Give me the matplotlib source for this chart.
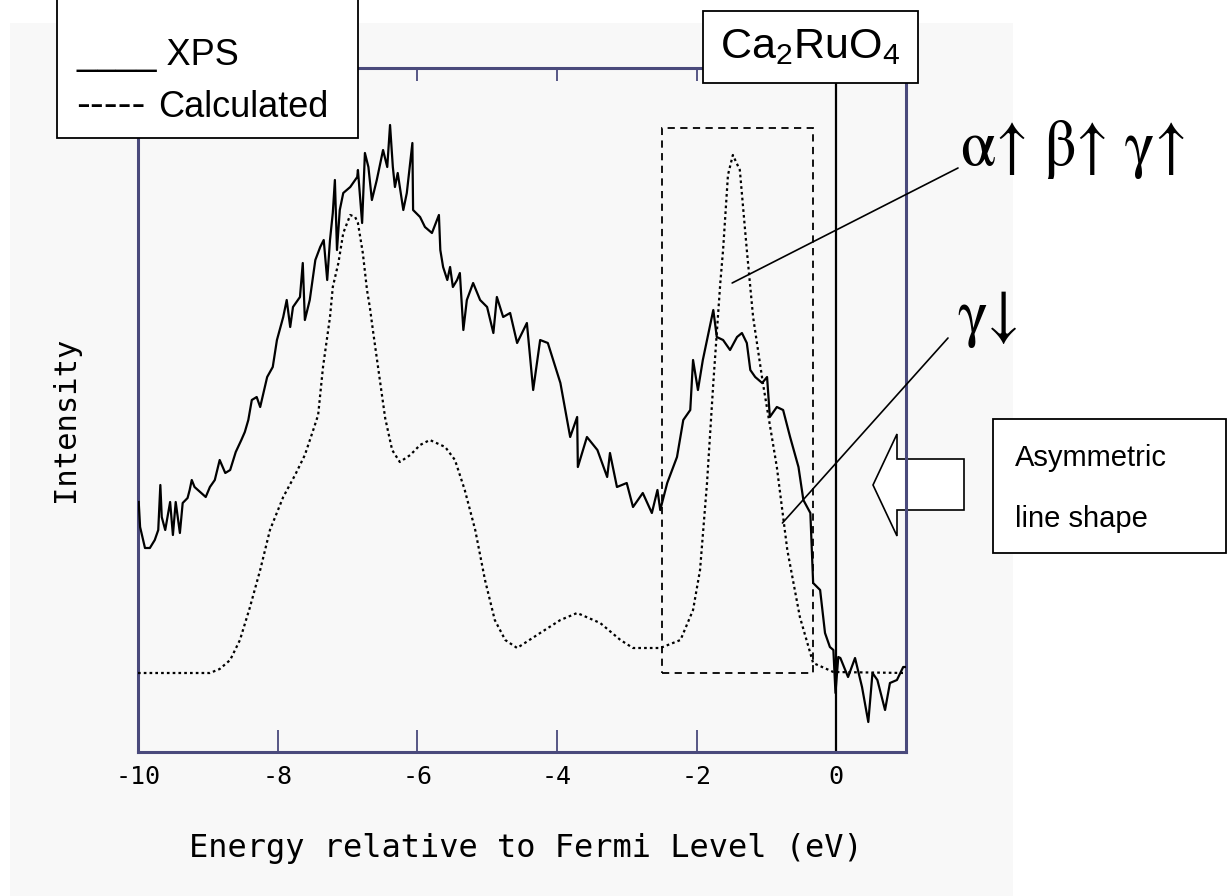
import matplotlib
matplotlib.use('Agg')
import matplotlib.pyplot as plt
from matplotlib.patches import Rectangle, Polygon

# --- Data (intensity in arbitrary units) ---
xps_energy = [
    -9.99, -9.97, -9.90, -9.83, -9.76, -9.71, -9.68, -9.66, -9.61, -9.54,
    -9.50, -9.46, -9.40, -9.36, -9.29, -9.26, -9.23, -9.19, -9.11, -9.03,
    -8.97, -8.90, -8.83, -8.75, -8.68, -8.60, -8.52, -8.47, -8.42, -8.37,
    -8.30, -8.25, -8.15, -8.07, -8.01, -7.92, -7.87, -7.82, -7.78, -7.68,
    -7.64, -7.61, -7.54, -7.46, -7.39, -7.34, -7.29, -7.25, -7.21, -7.18,
    -7.15, -7.11, -7.06, -6.96, -6.86, -6.85, -6.79, -6.75, -6.70, -6.65,
    -6.58, -6.49, -6.43, -6.39, -6.35, -6.32, -6.28, -6.20, -6.15, -6.07,
    -6.06, -5.96, -5.89, -5.79, -5.69, -5.67, -5.63, -5.57, -5.53, -5.49,
    -5.43, -5.39, -5.34, -5.29, -5.20, -5.10, -5.00, -4.91, -4.86, -4.77,
    -4.67, -4.57, -4.43, -4.34, -4.24, -4.13, -3.95, -3.81, -3.71, -3.70,
    -3.57, -3.42, -3.28, -3.24, -3.14, -3.00, -2.91, -2.77, -2.64, -2.56,
    -2.52, -2.42, -2.28, -2.19, -2.09, -2.05, -1.98, -1.91, -1.76, -1.71,
    -1.62, -1.52, -1.42, -1.35, -1.28, -1.23, -1.16, -1.06, -0.99, -0.95,
    -0.85, -0.76, -0.66, -0.54, -0.47, -0.37, -0.33, -0.23, -0.16, -0.09,
    -0.04, -0.01, 0.03, 0.06, 0.17, 0.27, 0.37, 0.46, 0.52, 0.59,
    0.70, 0.77, 0.87, 0.96, 0.99,
]
xps_intensity = [
    250, 225, 204, 204, 212, 222, 267, 235, 222, 250,
    217, 250, 219, 249, 254, 262, 272, 265, 260, 255,
    265, 272, 292, 279, 282, 300, 312, 320, 332, 352,
    355, 345, 375, 385, 412, 435, 452, 425, 445, 455,
    489, 432, 452, 492, 505, 512, 472, 512, 539, 572,
    502, 542, 559, 565, 575, 582, 529, 599, 585, 552,
    572, 602, 585, 627, 585, 565, 579, 542, 559, 609,
    542, 535, 525, 519, 537, 502, 485, 472, 485, 465,
    472, 479, 422, 452, 469, 452, 445, 419, 455, 435,
    439, 409, 429, 362, 412, 409, 369, 315, 335, 285,
    315, 302, 275, 299, 265, 269, 245, 259, 239, 262,
    242, 269, 295, 332, 342, 392, 362, 392, 442, 415,
    412, 402, 415, 419, 409, 382, 375, 369, 375, 335,
    345, 342, 315, 285, 252, 239, 169, 162, 119, 105,
    102, 59, 95, 94, 75, 94, 65, 30, 79, 72,
    42, 69, 72, 85, 85,
]

calc_energy = [
    -10.0, -8.97, -8.83, -8.68, -8.54, -8.40, -8.25, -8.11, -7.92, -7.75,
    -7.61, -7.49, -7.42, -7.35, -7.25, -7.21, -7.13, -7.06, -6.96, -6.89,
    -6.85, -6.78, -6.72, -6.68, -6.63, -6.53, -6.46, -6.36, -6.25, -6.10,
    -5.96, -5.82, -5.60, -5.46, -5.32, -5.17, -5.03, -4.89, -4.74, -4.57,
    -4.24, -3.95, -3.71, -3.38, -3.09, -2.91, -2.52, -2.23, -2.05, -1.95,
    -1.85, -1.76, -1.66, -1.62, -1.55, -1.48, -1.38, -1.28, -1.19, -1.05,
    -0.85, -0.70, -0.52, -0.33, -0.04, 1.0,
]
calc_intensity = [
    79, 79, 83, 92, 112, 144, 182, 222, 255, 277,
    297, 322, 337, 385, 435, 465, 489, 519, 537, 535,
    529, 499, 462, 445, 419, 369, 334, 302, 290, 297,
    307, 312, 305, 292, 262, 222, 172, 132, 112, 104,
    119, 132, 139, 129, 112, 104, 104, 112, 142, 182,
    269, 369, 469, 502, 577, 597, 582, 502, 435, 369,
    285, 202, 135, 89, 80, 79,
]

x_ticks = [-10, -8, -6, -4, -2, 0]
peak_box = (-2.5, -0.33, 79, 624)   # energy from/to, intensity from/to
alpha_point = (-1.49, 469)
gamma_point = (-0.77, 229)

# --- Layout helpers (reference pixel positions, origin top-left) ---
W, H = 1228, 896
def fxy(px, py):
    return px / W, 1 - py / H

mono = 'DejaVu Sans Mono'
sans = ['Liberation Sans', 'DejaVu Sans']
serif = ['STIXGeneral', 'Liberation Serif', 'DejaVu Serif']
plt.rcParams['mathtext.fontset'] = 'custom'
plt.rcParams['mathtext.rm'] = 'Liberation Sans'
plt.rcParams['mathtext.default'] = 'rm'

spine_col = '#4a4a7c'

fig = plt.figure(figsize=(W / 100, H / 100), dpi=100, facecolor='white')

# light grey panel behind the plot
x0, y0 = fxy(10, 896)
x1, y1 = fxy(1013, 23)
fig.add_artist(Rectangle((x0, y0), x1 - x0, y1 - y0, transform=fig.transFigure,
                         facecolor='#f8f8f8', edgecolor='none', zorder=-2))

ax = fig.add_axes([138 / W, 1 - 752 / H, (906 - 138) / W, (752 - 68) / H])
ax.set_facecolor('none')

ax.plot(xps_energy, xps_intensity, color='black', lw=1.6, zorder=3)
ax.plot(calc_energy, calc_intensity, color='black', lw=1.6,
        linestyle=(0, (1.2, 1.4)), zorder=3)

ax.axvline(0, color='black', lw=1.6, zorder=2)

bx0, bx1, by0, by1 = peak_box
ax.add_patch(Rectangle((bx0, by0), bx1 - bx0, by1 - by0, fill=False,
                       edgecolor='black', lw=1.3, linestyle=(0, (4, 3)), zorder=2))

ax.set_xlim(-10, 1)
ax.set_ylim(0, 684)
ax.set_xticks(x_ticks)
ax.set_xticklabels([str(t) for t in x_ticks], fontfamily=mono, fontsize=18)
ax.set_yticks([])
ax.tick_params(axis='x', direction='in', top=True, bottom=True,
               length=16, width=1.3, color=spine_col, pad=9)
for t in ax.xaxis.get_major_ticks():
    t.tick2line.set_markersize(9)
for s in ax.spines.values():
    s.set_color(spine_col)
    s.set_linewidth(2.2)

ax.set_xlabel('Energy relative to Fermi Level (eV)', fontfamily=mono, fontsize=23)
ax.xaxis.set_label_coords(0.505, -0.118)
ax.set_ylabel('Intensity', fontfamily=mono, fontsize=22)
ax.yaxis.set_label_coords(-0.076, 0.487)

# legend box (runs off the top edge)
lx0, ly0 = fxy(57, 138)
fig.add_artist(Rectangle((lx0, ly0), (358 - 57) / W, 1.0, transform=fig.transFigure,
                         facecolor='white', edgecolor='black', lw=1.3, zorder=5))
fig.text(*fxy(77, 65), '____ XPS', fontfamily=sans, fontsize=26, va='baseline', zorder=6)
fig.text(*fxy(76, 117), '-----', fontfamily=sans, fontsize=30, va='baseline', zorder=6)
fig.text(*fxy(158, 117), 'Calculated', fontfamily=sans, fontsize=26, va='baseline', zorder=6)

# compound label box
cx0, cy0 = fxy(703, 83)
fig.add_artist(Rectangle((cx0, cy0), (918 - 703) / W, (83 - 11) / H, transform=fig.transFigure,
                         facecolor='white', edgecolor='black', lw=1.3, zorder=5))
fig.text(*fxy(810, 47), 'Ca$_2$RuO$_4$', fontfamily=sans, fontsize=31,
         ha='center', va='center', zorder=6)

# spin labels with leader lines
fig.text(*fxy(961, 165), 'α↑ β↑ γ↑', fontfamily=serif, fontsize=46, va='baseline', zorder=6)
fig.text(*fxy(957, 334), 'γ↓', fontfamily=serif, fontsize=46, va='baseline', zorder=6)
ax.annotate('', xy=alpha_point, xycoords='data', xytext=(958, H - 168),
            textcoords='figure pixels', annotation_clip=False,
            arrowprops=dict(arrowstyle='-', color='black', lw=1.2, shrinkA=0, shrinkB=0))
ax.annotate('', xy=gamma_point, xycoords='data', xytext=(948, H - 338),
            textcoords='figure pixels', annotation_clip=False,
            arrowprops=dict(arrowstyle='-', color='black', lw=1.2, shrinkA=0, shrinkB=0))

# block arrow pointing at the edge, behind the axes frame
arrow_px = [(873, 485), (897, 434), (897, 459), (964, 459),
            (964, 510), (897, 510), (897, 536)]
fig.add_artist(Polygon([fxy(px, py) for px, py in arrow_px], closed=True,
                       transform=fig.transFigure, facecolor='white',
                       edgecolor='black', lw=1.2, zorder=-1))

# asymmetric line shape box
ax0, ay0 = fxy(993, 553)
fig.add_artist(Rectangle((ax0, ay0), (1226 - 993) / W, (553 - 419) / H, transform=fig.transFigure,
                         facecolor='white', edgecolor='black', lw=1.3, zorder=5))
fig.text(*fxy(1015, 466), 'Asymmetric', fontfamily=sans, fontsize=21, va='baseline', zorder=6)
fig.text(*fxy(1015, 527), 'line shape', fontfamily=sans, fontsize=21, va='baseline', zorder=6)

fig.savefig('out.png', dpi=100, facecolor='white')
